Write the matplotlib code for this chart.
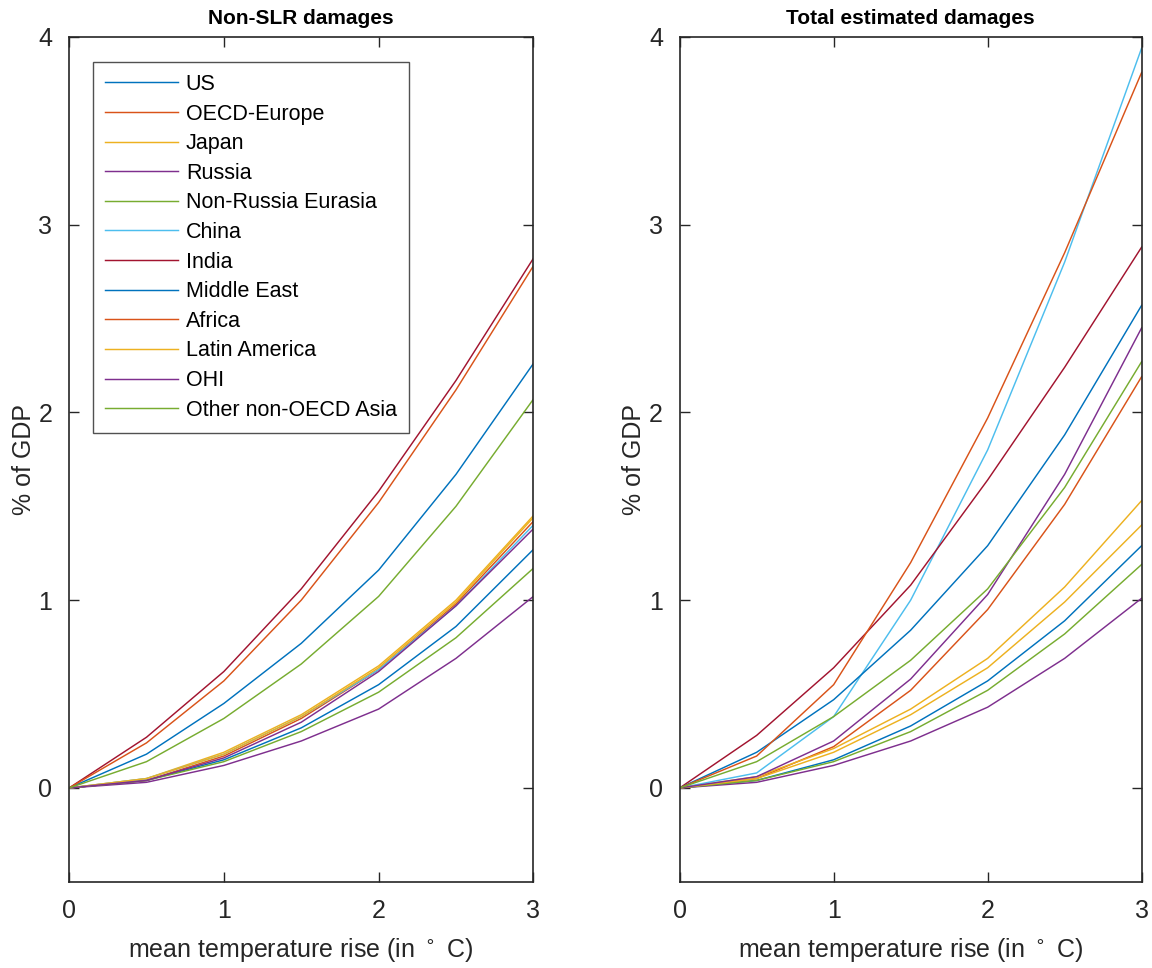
import numpy as np
import matplotlib
matplotlib.use('Agg')
import matplotlib.pyplot as plt

plt.rcParams['font.family'] = ['Liberation Sans', 'DejaVu Sans']

# temperature rise (deg C)
temp = [0, 0.5, 1.0, 1.5, 2.0, 2.5, 3.0]

regions = ['US', 'OECD-Europe', 'Japan', 'Russia', 'Non-Russia Eurasia', 'China',
           'India', 'Middle East', 'Africa', 'Latin America', 'OHI',
           'Other non-OECD Asia']

# non-SLR damages, % of GDP
nonslr_us = [0, 0.04, 0.15, 0.32, 0.55, 0.86, 1.27]
nonslr_oecd_europe = [0, 0.04, 0.17, 0.37, 0.63, 0.98, 1.42]
nonslr_japan = [0, 0.05, 0.19, 0.39, 0.65, 1.00, 1.45]
nonslr_russia = [0, 0.03, 0.12, 0.25, 0.42, 0.69, 1.02]
nonslr_nre = [0, 0.04, 0.14, 0.30, 0.51, 0.80, 1.17]
nonslr_china = [0, 0.05, 0.18, 0.38, 0.63, 0.97, 1.40]
nonslr_india = [0, 0.27, 0.62, 1.06, 1.58, 2.17, 2.82]
nonslr_mideast = [0, 0.18, 0.45, 0.77, 1.16, 1.67, 2.26]
nonslr_africa = [0, 0.24, 0.57, 1.00, 1.52, 2.12, 2.78]
nonslr_latam = [0, 0.05, 0.18, 0.38, 0.64, 0.99, 1.44]
nonslr_ohi = [0, 0.04, 0.16, 0.35, 0.62, 0.97, 1.38]
nonslr_other_asia = [0, 0.14, 0.37, 0.66, 1.02, 1.50, 2.07]

# total estimated damages (incl. SLR), % of GDP
total_us = [0, 0.04, 0.15, 0.33, 0.57, 0.89, 1.29]
total_oecd_europe = [0, 0.05, 0.22, 0.52, 0.95, 1.51, 2.19]
total_japan = [0, 0.06, 0.21, 0.42, 0.69, 1.07, 1.53]
total_russia = [0, 0.03, 0.12, 0.25, 0.43, 0.69, 1.01]
total_nre = [0, 0.04, 0.14, 0.30, 0.52, 0.82, 1.19]
total_china = [0, 0.08, 0.38, 1.00, 1.80, 2.80, 3.94]
total_india = [0, 0.28, 0.64, 1.08, 1.64, 2.24, 2.88]
total_mideast = [0, 0.19, 0.47, 0.84, 1.29, 1.88, 2.57]
total_africa = [0, 0.17, 0.55, 1.20, 1.97, 2.85, 3.81]
total_latam = [0, 0.05, 0.19, 0.39, 0.64, 0.99, 1.40]
total_ohi = [0, 0.06, 0.25, 0.58, 1.03, 1.67, 2.45]
total_other_asia = [0, 0.14, 0.38, 0.68, 1.06, 1.60, 2.27]

nonslr = [nonslr_us, nonslr_oecd_europe, nonslr_japan, nonslr_russia, nonslr_nre,
          nonslr_china, nonslr_india, nonslr_mideast, nonslr_africa, nonslr_latam,
          nonslr_ohi, nonslr_other_asia]
total = [total_us, total_oecd_europe, total_japan, total_russia, total_nre,
         total_china, total_india, total_mideast, total_africa, total_latam,
         total_ohi, total_other_asia]

# default matlab line colour order
colours = [(0, 0.447, 0.741), (0.85, 0.325, 0.098), (0.929, 0.694, 0.125),
           (0.494, 0.184, 0.556), (0.466, 0.674, 0.188), (0.301, 0.745, 0.933),
           (0.635, 0.078, 0.184)]

fig = plt.figure(figsize=(11.52, 9.68), dpi=100)
ax1 = fig.add_axes([0.060, 0.089, 0.403, 0.873])
ax2 = fig.add_axes([0.590, 0.089, 0.401, 0.873])

for ax, data, title in [(ax1, nonslr, 'Non-SLR damages'),
                        (ax2, total, 'Total estimated damages')]:
    for i, y in enumerate(data):
        ax.plot(temp, y, color=colours[i % 7], lw=1.05, label=regions[i])
    ax.set_xlim(0, 3)
    ax.set_ylim(-0.5, 4)
    ax.set_xticks([0, 1, 2, 3])
    ax.set_yticks([0, 1, 2, 3, 4])
    ax.tick_params(direction='in', top=True, right=True, length=7, width=1,
                   labelsize=18, color='#262626', labelcolor='#262626', pad=12)
    for s in ax.spines.values():
        s.set_color('#262626')
        s.set_linewidth(1.2)
    ax.set_title(title, fontsize=15, fontweight='bold', pad=9)
    ax.set_xlabel('mean temperature rise (in $^\\circ$ C)', fontsize=18,
                  color='#262626', labelpad=10)
    ax.set_ylabel('% of GDP', fontsize=18, color='#262626', labelpad=2)

leg = ax1.legend(loc='upper left', bbox_to_anchor=(0.052, 0.970), fontsize=15.5,
                 frameon=True, fancybox=False, edgecolor='#262626',
                 handlelength=3.4, handletextpad=0.35, labelspacing=0.40,
                 borderpad=0.55, borderaxespad=0)
leg.get_frame().set_linewidth(1.0)

fig.savefig('out.png', dpi=100)
